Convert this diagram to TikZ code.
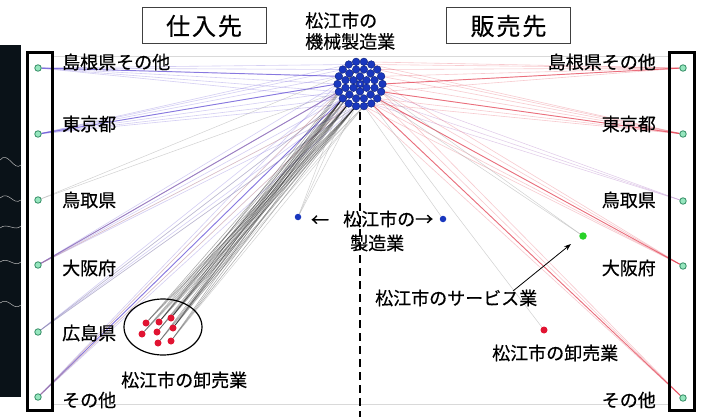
\documentclass[tikz,border=0pt]{standalone}
\usepackage{fontspec}
\newfontfamily\jp[FakeBold=0.5]{Noto Sans CJK JP}
\usetikzlibrary{arrows.meta,shapes.geometric}
\pgfdeclarelayer{base}
\pgfdeclarelayer{edges}
\pgfsetlayers{base,edges,main}
\definecolor{purpleE}{RGB}{100,80,215}
\definecolor{redE}{RGB}{225,45,65}
\definecolor{pinkE}{RGB}{185,135,205}
\definecolor{orangeE}{RGB}{230,150,90}
\definecolor{clBlue}{RGB}{25,55,190}
\definecolor{clEdge}{RGB}{10,30,120}
\definecolor{extFill}{RGB}{150,230,190}
\definecolor{extDraw}{RGB}{50,140,100}
\definecolor{redDot}{RGB}{225,20,50}
\definecolor{greenDot}{RGB}{40,210,40}
\definecolor{stripC}{RGB}{10,18,24}
\tikzset{
  lbl/.style={font=\jp\fontsize{18}{21}\selectfont, inner sep=0pt},
  ttl/.style={font=\jp\fontsize{24}{27}\selectfont\addfontfeature{LetterSpace=8}, draw=black!75, line width=1pt, minimum width=124pt, minimum height=36pt, inner sep=0pt},
  cdot/.style={circle, fill=clBlue, draw=clEdge, line width=0.4pt, minimum size=7.6pt, inner sep=0pt},
  ext/.style={circle, fill=extFill, draw=extDraw, line width=0.8pt, minimum size=6.5pt, inner sep=0pt},
  rdot/.style={circle, fill=redDot, minimum size=7pt, inner sep=0pt},
  sdot/.style={circle, minimum size=6.5pt, inner sep=0pt},
  pe/.style={purpleE, line width=0.6pt, opacity=0.28},
  pedark/.style={purpleE, line width=0.9pt, opacity=0.7},
  re/.style={redE, line width=0.6pt, opacity=0.25},
  redark/.style={redE, line width=0.9pt, opacity=0.6},
  ge/.style={black, line width=0.55pt, opacity=0.33},
  gl/.style={black!40, line width=0.5pt, opacity=0.45},
  oe/.style={orangeE, line width=0.5pt, opacity=0.35},
  bigbox/.style={draw, line width=2.4pt, minimum width=25pt, minimum height=358pt, inner sep=0pt},
}
\begin{document}
\begin{tikzpicture}[x=1pt,y=-1pt]
\useasboundingbox (0,0) rectangle (701,417);
\begin{pgfonlayer}{base}
  \fill[white] (0,0) rectangle (701,417);
  \fill[stripC] (0,45) rectangle (21,397);
  \draw[gray!55, line width=0.5pt] (0,160) .. controls (8,150) and (14,172) .. (21,165);
  \draw[gray!55, line width=0.5pt] (0,198) .. controls (9,190) and (13,206) .. (21,200);
  \draw[gray!55, line width=0.5pt] (0,228) .. controls (7,222) and (15,232) .. (21,226);
  \draw[gray!55, line width=0.5pt] (0,262) .. controls (8,256) and (14,268) .. (21,262);
  \draw[gray!55, line width=0.5pt] (0,303) .. controls (9,296) and (13,312) .. (21,305);
  \draw[black!15, line width=0.5pt] (53,56) -- (668,56);
  \draw[black!15, line width=0.5pt] (53,404) -- (668,404);
\end{pgfonlayer}

% boxes
\node[bigbox] (LB) at (40,231.5) {};
\node[bigbox] (RB) at (682,231.5) {};
\node[ttl] (tin) at (204,26) {仕入先};
\node[ttl] (tout) at (508.5,26) {販売先};

% dashed axis
\draw[line width=2.2pt, dash pattern=on 8pt off 5pt] (360,112) -- (360,417);

% external nodes
\node[ext] (L1) at (38,68) {};
\node[ext] (L2) at (38,134) {};
\node[ext] (L3) at (38,200) {};
\node[ext] (L4) at (38,265) {};
\node[ext] (L5) at (38,332) {};
\node[ext] (L6) at (38,397) {};
\node[ext] (R1) at (683,68) {};
\node[ext] (R2) at (683,134) {};
\node[ext] (R3) at (683,201) {};
\node[ext] (R4) at (683,266) {};
\node[ext] (R5) at (683,398) {};

% labels
\node[lbl, anchor=west] (tL1) at (62,62) {島根県その他};
\node[lbl, anchor=west] (tL2) at (62,124) {東京都};
\node[lbl, anchor=west] (tL3) at (62,200) {鳥取県};
\node[lbl, anchor=west] (tL4) at (62,268) {大阪府};
\node[lbl, anchor=west] (tL5) at (62,333) {広島県};
\node[lbl, anchor=west] (tL6) at (62,400) {その他};
\node[lbl, anchor=east] (tR1) at (656,62) {島根県その他};
\node[lbl, anchor=east] (tR2) at (656,124) {東京都};
\node[lbl, anchor=east] (tR3) at (656,200) {鳥取県};
\node[lbl, anchor=east] (tR4) at (656,268) {大阪府};
\node[lbl, anchor=east] (tR5) at (656,400) {その他};

% cluster of machinery manufacturers
\node[cdot] (c0) at (360,84) {};
\foreach \k in {1,...,6}
  \node[cdot] (i\k) at ([shift={({(\k-1)*60+30}:7.5)}]360,84) {};
\foreach \k in {1,...,12}
  \node[cdot] (m\k) at ([shift={({(\k-1)*30+15}:15)}]360,84) {};
\foreach \k in {1,...,18}
  \node[cdot] (o\k) at ([shift={({(\k-1)*20}:22.5)}]360,84) {};
\node[circle, fill=white, minimum size=2pt, inner sep=0pt] (cw) at (360,84) {};
\node[lbl, align=left, anchor=west] (mtitle) at (305,31) {松江市の\\機械製造業};

% other Matsue nodes
\node[sdot, fill=clBlue] (bl) at (298,217) {};
\node[sdot, fill=clBlue] (br) at (443,219) {};
\node[sdot, fill=greenDot, minimum size=7.5pt] (gr) at (583,236) {};
\node[rdot] (rd) at (544,330) {};
\node[lbl] (larr) at (320,221) {←};
\node[lbl, anchor=west] (mfgA) at (343,219) {松江市の→};
\node[lbl, anchor=west] (mfgB) at (350,243) {製造業};
\node[lbl, anchor=west] (svc) at (375,298) {松江市のサービス業};
\node[lbl, anchor=west] (rws) at (492,353) {松江市の卸売業};
\node[lbl, anchor=west] (lws) at (121,380) {松江市の卸売業};
\coordinate (svcA) at (513,291);
\coordinate (svcB) at (571,244);
\draw[-{Stealth[length=7pt,width=5pt]}, line width=0.8pt] (svcA) -- (svcB);

% wholesale group (left)
\node[draw, ellipse, line width=1.2pt, minimum width=78pt, minimum height=56pt] (WE) at (163,327) {};
\node[rdot] (W1) at (146,323) {};
\node[rdot] (W2) at (159,322) {};
\node[rdot] (W3) at (171,318) {};
\node[rdot] (W4) at (142,334) {};
\node[rdot] (W5) at (157,332) {};
\node[rdot] (W6) at (173,328) {};
\node[rdot] (W7) at (158,343) {};
\node[rdot] (W8) at (171,341) {};

\begin{pgfonlayer}{edges}
  % suppliers (left)
  \foreach \s in {8,9,10,11,12,13} \draw[pe] (o\s.center) -- (L1);
  \draw[pedark] (o11.center) -- (L1);
  \foreach \s in {7,8,9,10,11,12,13} \draw[pe] (o\s.center) -- (L2);
  \draw[pedark] (o10.center) -- (L2);
  \foreach \s in {9,11} \draw[gl] (o\s.center) -- (L3);
  \foreach \s in {6,7,8,9,10} \draw[pe] (o\s.center) -- (L4);
  \draw[pedark] (o9.center) -- (L4);
  \foreach \s in {6,7,8,9} \draw[pe] (o\s.center) -- (L5);
  \foreach \s in {6,7,8,9,10} \draw[pe] (o\s.center) -- (L6);
  \draw[pedark] (o8.center) -- (L6);
  \foreach \s in {7,9} {\draw[oe] (o\s.center) -- (L4); \draw[oe] (o\s.center) -- (L6);}
  \foreach \s in {6,8} \draw[gl] (o\s.center) -- (L5);
  % wholesalers (left)
  \foreach \w in {1,...,8} \foreach \s in {6,7,8} \draw[ge] (o\s.center) -- (W\w);
  \foreach \w in {2,3,6} \foreach \s in {5,9} \draw[ge] (m\s.center) -- (W\w);
  \foreach \w in {1,4,7,8} \draw[gl] (o5.center) -- (W\w);
  \foreach \s in {6,7,8} \draw[gl] (o\s.center) -- (bl);
  % customers (right)
  \foreach \s in {1,2,15,16,17,18} \draw[re] (o\s.center) -- (R1);
  \draw[redark] (o1.center) -- (R1);
  \foreach \s in {1,2,3,4,16,17,18} \draw[re] (o\s.center) -- (R2);
  \draw[redark] (o2.center) -- (R2);
  \foreach \s in {2,3,4} \draw[pinkE, line width=0.5pt, opacity=0.45] (o\s.center) -- (R3);
  \foreach \s in {1,2,3,4,5} \draw[re] (o\s.center) -- (R4);
  \draw[redark] (o3.center) -- (R4);
  \foreach \s in {2,3,4,5} \draw[re] (o\s.center) -- (R5);
  \draw[redark] (o4.center) -- (R5);
  \foreach \s in {2,3} \draw[gl] (o\s.center) -- (gr);
  \draw[gl] (o4.center) -- (rd);
  \draw[gl] (o5.center) -- (br);
\end{pgfonlayer}
\end{tikzpicture}
\end{document}
